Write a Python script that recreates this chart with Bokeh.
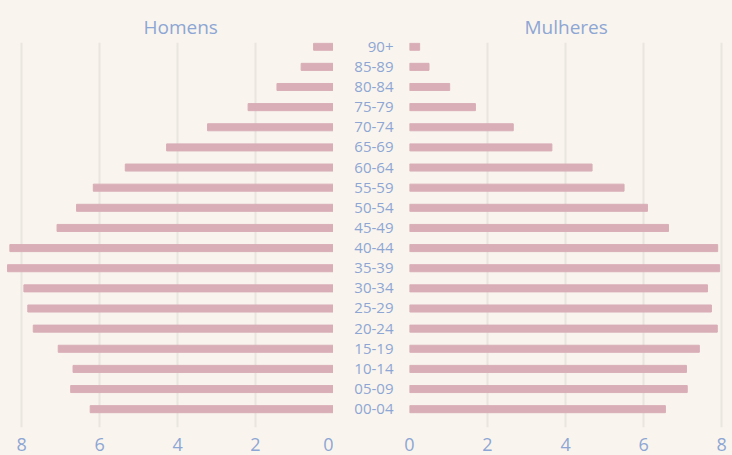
from bokeh.plotting import figure
from bokeh.layouts import row
from bokeh.models import Range1d, FixedTicker
from bokeh.embed import file_html
from bokeh.resources import INLINE

ages = ["00-04", "05-09", "10-14", "15-19", "20-24", "25-29", "30-34", "35-39",
        "40-44", "45-49", "50-54", "55-59", "60-64", "65-69", "70-74", "75-79",
        "80-84", "85-89", "90+"]
homens = [6.24, 6.74, 6.68, 7.06, 7.70, 7.84, 7.94, 8.36, 8.30, 7.09, 6.59, 6.16,
          5.34, 4.28, 3.23, 2.19, 1.45, 0.83, 0.51]
mulheres = [6.56, 7.12, 7.10, 7.43, 7.89, 7.74, 7.64, 7.95, 7.90, 6.64, 6.10, 5.50,
            4.68, 3.65, 2.66, 1.69, 1.03, 0.50, 0.26]
x_ticks = [0, 2, 4, 6, 8]

BG = "#f9f5ee"
BAR = "#d9aeb7"
TXT = "#8ea6d4"
GRID = "#e9e5df"
FONT = "Open Sans"

idx = list(range(len(ages)))
y_rng = (-0.91, 18.21)


def style(p, title, offset):
    p.background_fill_color = BG
    p.border_fill_color = BG
    p.outline_line_color = None
    p.title.text = title
    p.title.align = "left"
    p.title.offset = offset
    p.title.text_font = FONT
    p.title.text_font_size = "19px"
    p.title.text_font_style = "normal"
    p.title.text_color = TXT
    p.title.standoff = 6
    p.xaxis.ticker = FixedTicker(ticks=x_ticks)
    p.xaxis.axis_line_color = None
    p.xaxis.major_tick_line_color = None
    p.xaxis.minor_tick_line_color = None
    p.xaxis.major_label_text_font = FONT
    p.xaxis.major_label_text_font_size = "18px"
    p.xaxis.major_label_text_color = TXT
    p.xaxis.major_label_standoff = 4
    p.xgrid.ticker = FixedTicker(ticks=x_ticks)
    p.xgrid.grid_line_color = GRID
    p.xgrid.grid_line_width = 2
    p.ygrid.visible = False


p1 = figure(width=333, height=455, x_range=Range1d(8.54, 0), y_range=Range1d(*y_rng),
            output_backend="svg", toolbar_location=None, y_axis_location=None,
            min_border_left=0, min_border_right=0, min_border_top=42, min_border_bottom=28)
p1.hbar(y=idx, left=0, right=homens, height=0.35, color=BAR)
style(p1, "Homens", 143)

p2 = figure(width=399, height=455, x_range=Range1d(0, 8.28), y_range=Range1d(*y_rng),
            output_backend="svg", toolbar_location=None,
            min_border_left=76, min_border_right=0, min_border_top=42, min_border_bottom=28)
p2.hbar(y=idx, left=0, right=mulheres, height=0.35, color=BAR)
style(p2, "Mulheres", 115)
p2.yaxis.ticker = FixedTicker(ticks=idx)
p2.yaxis.major_label_overrides = {i: a for i, a in zip(idx, ages)}
p2.yaxis.axis_line_color = None
p2.yaxis.major_tick_line_color = None
p2.yaxis.minor_tick_line_color = None
p2.yaxis.major_label_text_font = FONT
p2.yaxis.major_label_text_font_size = "15px"
p2.yaxis.major_label_text_color = TXT
p2.yaxis.major_label_standoff = 10

layout = row(p1, p2, spacing=0)
layout.styles = {"background-color": BG}

html = file_html(layout, INLINE)
html = html.replace("<body>", '<body style="background-color:%s;">' % BG)
open("out.html", "w").write(html)
